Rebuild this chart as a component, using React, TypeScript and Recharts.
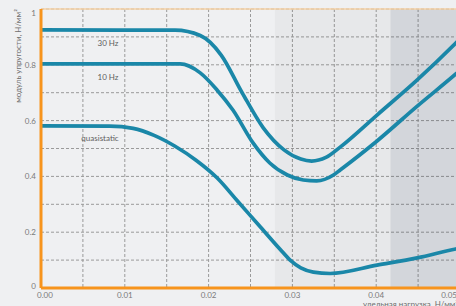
import React from 'react';
import {
  LineChart, Line, XAxis, YAxis, CartesianGrid, ReferenceArea, ReferenceLine
} from 'recharts';

// удельная нагрузка (Н/мм²) -> модуль упругости (Н/мм²)
const loadQuasi = [0, 0.0082, 0.011, 0.0135, 0.016, 0.0185, 0.021, 0.0235, 0.026, 0.0285, 0.0298, 0.031, 0.0325, 0.0345, 0.0401, 0.0449, 0.0495, 0.05];
const modulusQuasi = [0.581, 0.58, 0.572, 0.547, 0.508, 0.458, 0.395, 0.31, 0.225, 0.14, 0.098, 0.072, 0.057, 0.052, 0.082, 0.108, 0.14, 0.143];

const load10 = [0, 0.0166, 0.019, 0.021, 0.0229, 0.0253, 0.0273, 0.0294, 0.0313, 0.0329, 0.0349, 0.0357, 0.0401, 0.0449, 0.0495, 0.05];
const modulus10 = [0.803, 0.803, 0.771, 0.71, 0.638, 0.52, 0.448, 0.405, 0.387, 0.384, 0.405, 0.423, 0.527, 0.652, 0.767, 0.78];

const load30 = [0, 0.016, 0.019, 0.0215, 0.024, 0.0265, 0.029, 0.031, 0.0323, 0.034, 0.0357, 0.0401, 0.0449, 0.0495, 0.05];
const modulus30 = [0.925, 0.924, 0.905, 0.835, 0.7, 0.575, 0.495, 0.462, 0.455, 0.468, 0.505, 0.62, 0.746, 0.878, 0.893];

const xTicks = [0, 0.005, 0.01, 0.015, 0.02, 0.025, 0.03, 0.035, 0.04, 0.045, 0.05];
const xLabels: Record<string, string> = { '0': '0.00', '0.01': '0.01', '0.02': '0.02', '0.03': '0.03', '0.04': '0.04', '0.05': '0.05' };
const yTicks = [0, 0.1, 0.2, 0.3, 0.4, 0.5, 0.6, 0.7, 0.8, 0.9, 1];
const yLabels: Record<string, string> = { '0': '0', '0.2': '0.2', '0.4': '0.4', '0.6': '0.6', '0.8': '0.8', '1': '1' };

// shaded zones along the load axis
const zoneMid = [0.0279, 0.0417];
const zoneHigh = [0.0417, 0.05];

const toPoints = (xs: number[], ys: number[]) => xs.map((x, i) => ({ x, y: ys[i] }));

const ORANGE = '#f7941d';
const TEAL = '#1a87a8';
const FONT = 'Lato, "Open Sans", sans-serif';

const XTick = ({ x, y, payload }: any) => {
  const label = xLabels[String(payload.value)];
  if (!label) return <g />;
  const last = payload.value === 0.05;
  const first = payload.value === 0;
  return (
    <text
      x={last ? x - 3 : first ? x + 4 : x}
      y={y + 10}
      textAnchor={last ? 'end' : 'middle'}
      fill="#7a7a7a"
      fontSize={8}
      fontFamily={FONT}
    >
      {label}
    </text>
  );
};

const YTick = ({ x, y, payload }: any) => {
  const label = yLabels[String(payload.value)];
  if (!label) return <g />;
  const dy = payload.value === 1 ? 7 : payload.value === 0 ? 1 : 3;
  return (
    <text x={x - 5} y={y + dy} textAnchor="end" fill="#7a7a7a" fontSize={8} fontFamily={FONT}>
      {label}
    </text>
  );
};

const note = (left: number, top: number, text: string, extra: React.CSSProperties = {}) => (
  <div
    style={{
      position: 'absolute', left, top, transform: 'translate(-50%, -50%)',
      fontFamily: FONT, fontSize: 8, lineHeight: 1, color: '#5e5e5e', whiteSpace: 'nowrap', ...extra
    }}
  >
    {text}
  </div>
);

export default function App() {
  return (
    <div style={{ position: 'absolute', left: 0, top: 0, width: 456, height: 306, overflow: 'hidden', background: '#eff0f2' }}>
      <LineChart width={460} height={306} margin={{ top: 9, right: 0, bottom: 0, left: 0 }}>
        <CartesianGrid stroke="#9a9a9a" strokeDasharray="3 2" />
        {/* translucent so the dashed grid still shows through */}
        <ReferenceArea x1={zoneMid[0]} x2={zoneMid[1]} fill="#000000" fillOpacity={0.03} stroke="none" />
        <ReferenceArea x1={zoneHigh[0]} x2={zoneHigh[1]} fill="#001428" fillOpacity={0.113} stroke="none" />
        <XAxis
          type="number"
          dataKey="x"
          domain={[0, 0.05]}
          ticks={xTicks}
          allowDataOverflow
          height={18}
          tickSize={0}
          tickMargin={0}
          tickLine={false}
          axisLine={{ stroke: ORANGE, strokeWidth: 3 }}
          tick={<XTick />}
          interval={0}
        />
        <YAxis
          type="number"
          dataKey="y"
          domain={[0, 1]}
          ticks={yTicks}
          width={41}
          tickSize={0}
          tickMargin={0}
          tickLine={false}
          axisLine={{ stroke: ORANGE, strokeWidth: 3 }}
          tick={<YTick />}
          interval={0}
        />
        <ReferenceLine y={1} stroke="#f6d2a6" strokeWidth={1.5} />
        <Line data={toPoints(loadQuasi, modulusQuasi)} dataKey="y" type="monotone" stroke={TEAL} strokeWidth={3.7} dot={false} isAnimationActive={false} />
        <Line data={toPoints(load10, modulus10)} dataKey="y" type="monotone" stroke={TEAL} strokeWidth={3.7} dot={false} isAnimationActive={false} />
        <Line data={toPoints(load30, modulus30)} dataKey="y" type="monotone" stroke={TEAL} strokeWidth={3.7} dot={false} isAnimationActive={false} />
      </LineChart>
      {note(108, 43, '30 Hz')}
      {note(108, 77, '10 Hz')}
      {note(100, 138, 'quasistatic')}
      {note(18, 56, 'модуль упругости, Н/мм²', { transform: 'translate(-50%, -50%) rotate(-90deg)', color: '#6e6e6e' })}
      <div style={{ position: 'absolute', left: 363, top: 299, fontFamily: FONT, fontSize: 8, lineHeight: '10px', color: '#6e6e6e', whiteSpace: 'nowrap' }}>
        удельная нагрузка, Н/мм²
      </div>
    </div>
  );
}
